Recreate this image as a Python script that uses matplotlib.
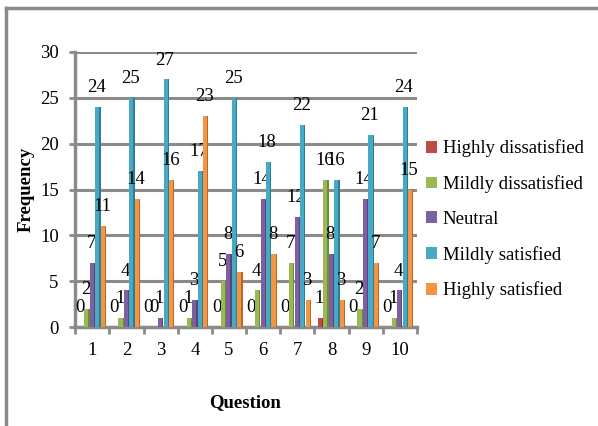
import numpy as np
import matplotlib.pyplot as plt
from matplotlib.patches import Patch
from matplotlib.lines import Line2D

questions = ['1', '2', '3', '4', '5', '6', '7', '8', '9', '10']
series_names = ['Highly dissatisfied', 'Mildly dissatisfied', 'Neutral',
                'Mildly satisfied', 'Highly satisfied']
highly_dissatisfied = [0, 0, 0, 0, 0, 0, 0, 1, 0, 0]
mildly_dissatisfied = [2, 1, 0, 1, 5, 4, 7, 16, 2, 1]
neutral = [7, 4, 1, 3, 8, 14, 12, 8, 14, 4]
mildly_satisfied = [24, 25, 27, 17, 25, 18, 22, 16, 21, 24]
highly_satisfied = [11, 14, 16, 23, 6, 8, 3, 3, 7, 15]

colors = ['#BE4B48', '#98B954', '#7D60A0', '#46AAC5', '#F59443']
side_colors = ['#8c3330', '#6f8a3a', '#5a4578', '#2f7d92', '#b8692a']

plt.rcParams['font.family'] = 'Liberation Serif'

fig = plt.figure(figsize=(5.98, 4.26), dpi=100)
ax = fig.add_axes([0.126, 0.232, 0.571, 0.646])

data = [highly_dissatisfied, mildly_dissatisfied, neutral,
        mildly_satisfied, highly_satisfied]
x = np.arange(len(questions))
slot = 0.16
front_w = 0.12
side_w = 0.035

# gridlines
for g in range(0, 31, 5):
    ax.axhline(g, color='#8a8a8a', lw=2.2, zorder=0)

for i, vals in enumerate(data):
    pos = x + (i - 2) * slot
    ax.bar(pos - side_w / 2, vals, width=front_w, color=colors[i], zorder=3)
    ax.bar(pos + front_w / 2, vals, width=side_w, color=side_colors[i], zorder=3)
    for p, v in zip(pos, vals):
        ax.annotate(str(v), (p, v), xytext=(-1, 14), textcoords='offset points',
                    ha='center', va='center', fontsize=13.5)

ax.set_xlim(-0.5, 9.5)
ax.set_ylim(0, 30)
ax.set_yticks(range(0, 31, 5))
ax.set_xticks(np.arange(-0.5, 10, 1))
ax.set_xticklabels([])
ax.tick_params(axis='x', length=5, width=2, color='#8a8a8a', direction='out')
ax.tick_params(axis='y', length=4, width=2, color='#8a8a8a', labelsize=13.5, pad=8)
for q, xi in zip(questions, x):
    ax.text(xi, -2.5, q, ha='center', va='center', fontsize=13.5)

for s in ['top', 'right']:
    ax.spines[s].set_visible(False)
for s in ['left', 'bottom']:
    ax.spines[s].set_color('#8a8a8a')
    ax.spines[s].set_linewidth(2.5)

ax.set_ylabel('Frequency', fontsize=13.5, fontweight='bold', labelpad=4)
fig.text(0.41, 0.056, 'Question', ha='center', va='center',
         fontsize=13.5, fontweight='bold')

handles = [Patch(facecolor=c) for c in colors]
fig.legend(handles, series_names, loc='center left', bbox_to_anchor=(0.712, 0.485),
           frameon=False, fontsize=13.5, handlelength=0.6, handleheight=0.6,
           handletextpad=0.3, labelspacing=0.95, borderpad=0, borderaxespad=0)

# outer chart frame (top and left edges visible)
fig.add_artist(Line2D([0.01, 1.0], [0.981, 0.981], color='#8a8a8a', lw=2.5,
                      transform=fig.transFigure))
fig.add_artist(Line2D([0.01, 0.01], [0.0, 0.981], color='#8a8a8a', lw=2.5,
                      transform=fig.transFigure))

fig.savefig('out.png', dpi=100)
